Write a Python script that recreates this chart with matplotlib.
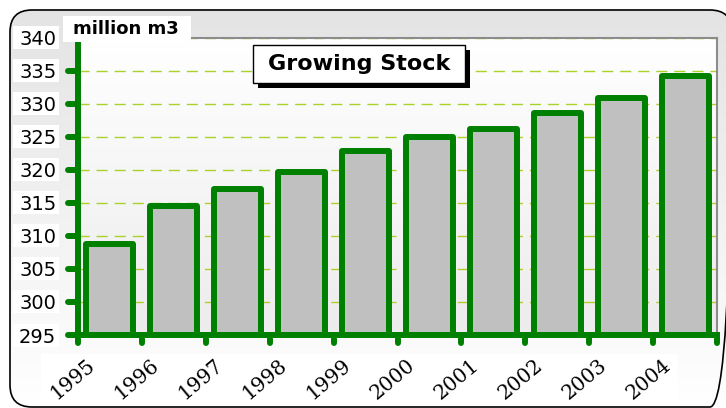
import numpy as np
import matplotlib.pyplot as plt
import matplotlib.lines as mlines
import matplotlib.transforms as mtransforms
from matplotlib.markers import MarkerStyle
from matplotlib.patches import FancyBboxPatch, Rectangle
from matplotlib.colors import LinearSegmentedColormap

plt.rcParams['lines.scale_dashes'] = False

# Data
years = ['1995', '1996', '1997', '1998', '1999', '2000', '2001', '2002', '2003', '2004']
stock = [308.8, 314.5, 317.1, 319.7, 322.9, 325.0, 326.2, 328.6, 330.8, 334.2]  # million m3
yticks = [295, 300, 305, 310, 315, 320, 325, 330, 335, 340]
title = 'Growing Stock'
unit = 'million m3'

green = '#008000'
W, H = 726, 408
fig = plt.figure(figsize=(W / 100, H / 100), dpi=100)

# background panel with rounded border (pixel coords)
bg = fig.add_axes([0, 0, 1, 1], zorder=0)
bg.axis('off')
frame = FancyBboxPatch((10, 10), 722, 397, boxstyle='round,pad=0,rounding_size=22',
                       fc='none', ec='black', lw=1.2, zorder=3)
bg.add_patch(frame)
grad = np.linspace(0, 1, 256).reshape(-1, 1)
im = bg.imshow(grad, extent=[0, W, H, 0], aspect='auto', zorder=0,
               cmap=LinearSegmentedColormap.from_list('bgc', ['#e3e3e3', '#ffffff']))
im.set_clip_path(frame)
bg.set_xlim(0, W)
bg.set_ylim(H, 0)

# main plot
ax = fig.add_axes([78 / W, (H - 335) / H, (717 - 78) / W, (335 - 37.5) / H], zorder=1)
ax.set_facecolor('none')
x = np.arange(len(years))
ax.bar(x, np.array(stock) - 295, bottom=295, width=0.735, color='#c0c0c0',
       edgecolor=green, linewidth=4.3, joinstyle='round', zorder=2)
ax.imshow(grad, extent=[-0.5, 9.5, 295, 340], aspect='auto', zorder=0,
          cmap=LinearSegmentedColormap.from_list('pc', ['#ffffff', '#ececec']))
ax.set_xlim(-0.5, len(years) - 0.5)
ax.set_ylim(295, 340)

ax.set_axisbelow(True)
ax.grid(axis='y', color='#aad22a', lw=1, linestyle=(0, (8, 5)))

for s in ['left', 'bottom']:
    ax.spines[s].set_color(green)
    ax.spines[s].set_linewidth(4.3)
for s in ['top', 'right']:
    ax.spines[s].set_color('#8c8c8c')
    ax.spines[s].set_linewidth(1.5)

ax.set_yticks(yticks)
ax.tick_params(axis='y', length=7, width=4.3, color=green, pad=22, labelsize=14)
for lab in ax.get_yticklabels():
    lab.set_ha('center')
for t in ax.yaxis.get_major_ticks():
    t.tick1line.set_marker(MarkerStyle(mlines.TICKLEFT, capstyle='round'))

ax.set_xticks(np.arange(-0.5, len(years), 1))
ax.set_xticklabels([])
ax.set_xticks(x, minor=True)
ax.set_xticklabels(years, minor=True, rotation=40, ha='right', va='top',
                   fontfamily='DejaVu Serif', fontsize=14.5)
ax.tick_params(axis='x', which='major', length=6, width=4.3, color=green)
ax.tick_params(axis='x', which='minor', length=0, pad=15)
for t in ax.xaxis.get_major_ticks():
    t.tick1line.set_marker(MarkerStyle(mlines.TICKDOWN, capstyle='round'))
shift = mtransforms.ScaledTranslation(-0.11, 0, fig.dpi_scale_trans)
for lab in ax.get_xticklabels(minor=True):
    lab.set_transform(lab.get_transform() + shift)

# white boxes behind tick labels
for v in yticks:
    py = H - ax.transData.transform((0, v))[1]
    bg.add_patch(Rectangle((13, py - 11.5), 46, 23, fc='white', ec='none', zorder=1))
bg.add_patch(Rectangle((41, 354), 637, 50, fc='white', ec='none', zorder=1))

# overlay: unit label and title box
top = fig.add_axes([0, 0, 1, 1], zorder=3)
top.axis('off')
top.set_xlim(0, W)
top.set_ylim(H, 0)
top.add_patch(Rectangle((63, 16), 128, 26, fc='white', ec='none'))
top.text(126, 29.5, unit, ha='center', va='center', fontsize=13, fontweight='bold')
top.add_patch(Rectangle((258, 50), 212, 38, fc='black', ec='none'))
top.add_patch(Rectangle((253, 45), 212, 38, fc='white', ec='black', lw=1))
top.text(359, 64.5, title, ha='center', va='center', fontsize=16, fontweight='bold')

fig.savefig('out.png', dpi=100)
